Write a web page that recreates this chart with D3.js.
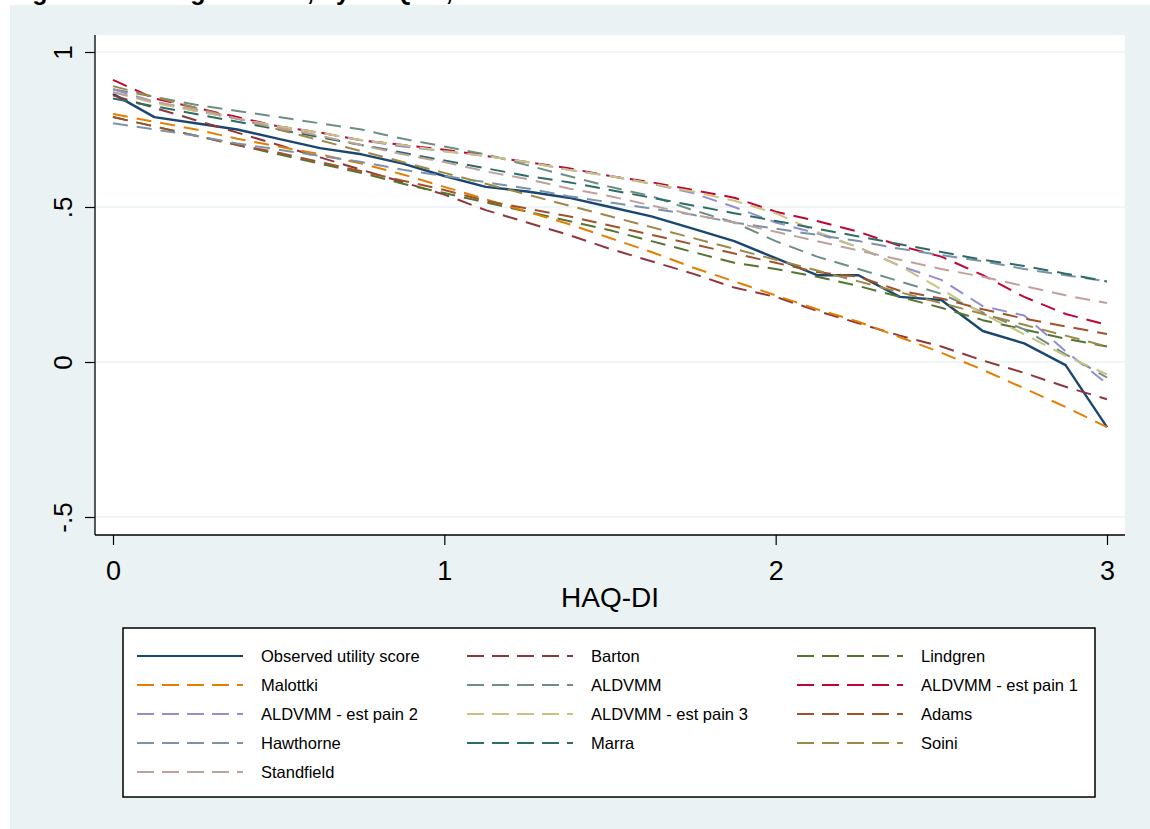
<!DOCTYPE html>
<html>
<head>
<meta charset="utf-8">
<script src="https://cdn.jsdelivr.net/npm/d3@7"></script>
<style>
  html, body { margin: 0; padding: 0; background: #ffffff; }
  svg { display: block; font-family: "Liberation Sans", Arial, sans-serif; }
</style>
</head>
<body>
<svg id="chart" width="1150" height="829"></svg>
<script>
// ---------------- data ----------------
const titleText = "Figure 2: Average scores, by HAQ-DI, observed and estimated";
const xTitle = "HAQ-DI";
const haq = [0, 0.125, 0.25, 0.375, 0.5, 0.625, 0.75, 0.875, 1, 1.125, 1.25, 1.375, 1.5,
             1.625, 1.75, 1.875, 2, 2.125, 2.25, 2.375, 2.5, 2.625, 2.75, 2.875, 3];
const xTicks = [0, 1, 2, 3];
const xTickLabels = ["0", "1", "2", "3"];
const yTicks = [-0.5, 0, 0.5, 1];
const yTickLabels = ["-.5", "0", ".5", "1"];

const seriesNames = ["Observed utility score", "Barton", "Lindgren", "Malottki", "ALDVMM",
  "ALDVMM - est pain 1", "ALDVMM - est pain 2", "ALDVMM - est pain 3", "Adams",
  "Hawthorne", "Marra", "Soini", "Standfield"];
const seriesColors = ["#1a476f", "#90353b", "#55752f", "#e37e00", "#6e8e84",
  "#c10534", "#938dd2", "#cac27e", "#a0522d", "#7b92a8", "#2d6d66", "#9c8847", "#bfa19c"];

const observed = [0.865,0.79,0.77,0.75,0.72,0.69,0.67,0.64,0.60,0.565,0.55,0.53,0.50,0.47,0.43,0.39,0.335,0.28,0.28,0.21,0.20,0.10,0.06,-0.01,-0.21];
const barton = [0.86,0.82,0.78,0.74,0.70,0.66,0.62,0.58,0.54,0.49,0.45,0.41,0.365,0.325,0.285,0.24,0.21,0.165,0.125,0.085,0.05,0.005,-0.035,-0.08,-0.12];
const lindgren = [0.79,0.76,0.73,0.70,0.67,0.64,0.61,0.575,0.545,0.515,0.485,0.455,0.425,0.39,0.355,0.32,0.30,0.275,0.245,0.21,0.175,0.135,0.105,0.075,0.05];
const malottki = [0.80,0.775,0.75,0.72,0.695,0.67,0.64,0.605,0.565,0.525,0.485,0.445,0.40,0.355,0.305,0.26,0.215,0.17,0.13,0.08,0.03,-0.025,-0.085,-0.145,-0.21];
const aldvmm = [0.88,0.855,0.83,0.81,0.79,0.77,0.75,0.72,0.695,0.67,0.635,0.60,0.565,0.535,0.49,0.45,0.39,0.34,0.30,0.26,0.22,0.16,0.105,0.025,-0.05];
const pain1 = [0.91,0.85,0.82,0.79,0.76,0.74,0.715,0.70,0.685,0.665,0.645,0.625,0.60,0.58,0.555,0.53,0.485,0.455,0.42,0.375,0.34,0.28,0.21,0.155,0.12];
const pain2 = [0.88,0.84,0.81,0.785,0.76,0.74,0.715,0.695,0.68,0.665,0.645,0.62,0.60,0.575,0.545,0.50,0.45,0.415,0.37,0.31,0.265,0.18,0.15,0.035,-0.07];
const pain3 = [0.87,0.835,0.81,0.785,0.76,0.74,0.715,0.70,0.68,0.665,0.645,0.62,0.60,0.575,0.55,0.52,0.48,0.42,0.37,0.31,0.235,0.155,0.09,0.02,-0.04];
const adams = [0.79,0.76,0.73,0.70,0.675,0.645,0.615,0.585,0.555,0.52,0.495,0.47,0.44,0.41,0.38,0.35,0.32,0.29,0.275,0.23,0.205,0.17,0.14,0.115,0.09];
const hawthorne = [0.77,0.75,0.73,0.705,0.685,0.665,0.645,0.62,0.60,0.58,0.56,0.535,0.515,0.495,0.475,0.45,0.43,0.41,0.39,0.365,0.345,0.325,0.30,0.28,0.26];
const marra = [0.85,0.825,0.80,0.775,0.75,0.725,0.70,0.675,0.65,0.625,0.60,0.58,0.555,0.53,0.505,0.48,0.455,0.43,0.405,0.38,0.355,0.33,0.31,0.285,0.26];
const soini = [0.89,0.855,0.82,0.785,0.75,0.715,0.68,0.645,0.61,0.575,0.54,0.505,0.47,0.435,0.40,0.365,0.33,0.295,0.26,0.225,0.19,0.155,0.12,0.085,0.05];
const standfield = [0.87,0.84,0.815,0.785,0.755,0.73,0.70,0.67,0.645,0.615,0.59,0.56,0.535,0.505,0.475,0.45,0.42,0.39,0.36,0.33,0.30,0.275,0.245,0.215,0.19];

const seriesValues = [observed, barton, lindgren, malottki, aldvmm, pain1, pain2, pain3,
  adams, hawthorne, marra, soini, standfield];

// ---------------- drawing ----------------
const svg = d3.select("#chart");
const W = 1150, H = 829;
const plot = { left: 95, right: 1125, top: 35, bottom: 535 };

svg.append("rect").attr("x", 10).attr("y", 5).attr("width", W - 10).attr("height", H - 5)
  .attr("fill", "#eaf2f3");

// title (cut off at top in the original)
svg.append("text").attr("x", 10).attr("y", 0)
  .attr("font-size", 25).attr("font-weight", "bold").attr("fill", "#000")
  .text(titleText);

svg.append("rect").attr("x", plot.left).attr("y", plot.top)
  .attr("width", plot.right - plot.left).attr("height", plot.bottom - plot.top)
  .attr("fill", "#ffffff");

const x = d3.scaleLinear().domain([0, 3]).range([113, 1107]);
const y = d3.scaleLinear().domain([-0.5, 1]).range([517, 52]);

// gridlines
svg.append("g").selectAll("line").data(yTicks).join("line")
  .attr("x1", plot.left).attr("x2", plot.right)
  .attr("y1", d => y(d)).attr("y2", d => y(d))
  .attr("stroke", "#eaf2f3").attr("stroke-width", 1.5);

// lines
const line = d3.line().x((d, i) => x(haq[i])).y(d => y(d));
const linesG = svg.append("g");
seriesValues.forEach((vals, k) => {
  linesG.append("path").datum(vals)
    .attr("d", line)
    .attr("fill", "none")
    .attr("stroke", seriesColors[k])
    .attr("stroke-width", k === 0 ? 2.4 : 2)
    .attr("stroke-dasharray", k === 0 ? null : "15,9")
    .attr("stroke-linejoin", "round");
});

// y axis
const yAxis = d3.axisLeft(y).tickValues(yTicks)
  .tickFormat((d, i) => yTickLabels[i]).tickSize(10).tickSizeOuter(0);
const yg = svg.append("g").attr("transform", `translate(${plot.left},0)`).call(yAxis);
yg.select(".domain").remove();
yg.append("line").attr("x1", 0).attr("x2", 0).attr("y1", plot.top).attr("y2", plot.bottom)
  .attr("stroke", "#000").attr("stroke-width", 1.3);
yg.selectAll(".tick line").attr("stroke", "#000").attr("stroke-width", 1.2);
yg.selectAll(".tick text")
  .attr("x", null).attr("dy", null)
  .attr("transform", "translate(-23,0) rotate(-90)")
  .attr("text-anchor", "middle")
  .attr("font-size", 26).attr("fill", "#000")
  .attr("font-family", "Liberation Sans, Arial, sans-serif");

// x axis
const xAxis = d3.axisBottom(x).tickValues(xTicks)
  .tickFormat((d, i) => xTickLabels[i]).tickSize(10).tickSizeOuter(0);
const xg = svg.append("g").attr("transform", `translate(0,${plot.bottom})`).call(xAxis);
xg.select(".domain").remove();
xg.append("line").attr("x1", plot.left).attr("x2", plot.right).attr("y1", 0).attr("y2", 0)
  .attr("stroke", "#000").attr("stroke-width", 1.3);
xg.selectAll(".tick line").attr("stroke", "#000").attr("stroke-width", 1.2);
xg.selectAll(".tick text")
  .attr("y", 45).attr("dy", null)
  .attr("font-size", 27).attr("fill", "#000")
  .attr("font-family", "Liberation Sans, Arial, sans-serif");

svg.append("text").attr("x", 610).attr("y", 607).attr("text-anchor", "middle")
  .attr("font-size", 28).attr("fill", "#000").text(xTitle);

// legend
const leg = svg.append("g");
leg.append("rect").attr("x", 123).attr("y", 628).attr("width", 972).attr("height", 169)
  .attr("fill", "#fff").attr("stroke", "#000").attr("stroke-width", 1.5);
const colX = [137, 467, 797];
const rowY = [656, 685, 714, 743, 772];
seriesNames.forEach((name, k) => {
  const c = k % 3, r = Math.floor(k / 3);
  const gx = colX[c], gy = rowY[r];
  leg.append("line").attr("x1", gx).attr("x2", gx + 106).attr("y1", gy).attr("y2", gy)
    .attr("stroke", seriesColors[k]).attr("stroke-width", 2)
    .attr("stroke-dasharray", k === 0 ? null : "17,8");
  leg.append("text").attr("x", gx + 124).attr("y", gy + 6)
    .attr("font-size", 16.5).attr("fill", "#000").text(name);
});
</script>
</body>
</html>
